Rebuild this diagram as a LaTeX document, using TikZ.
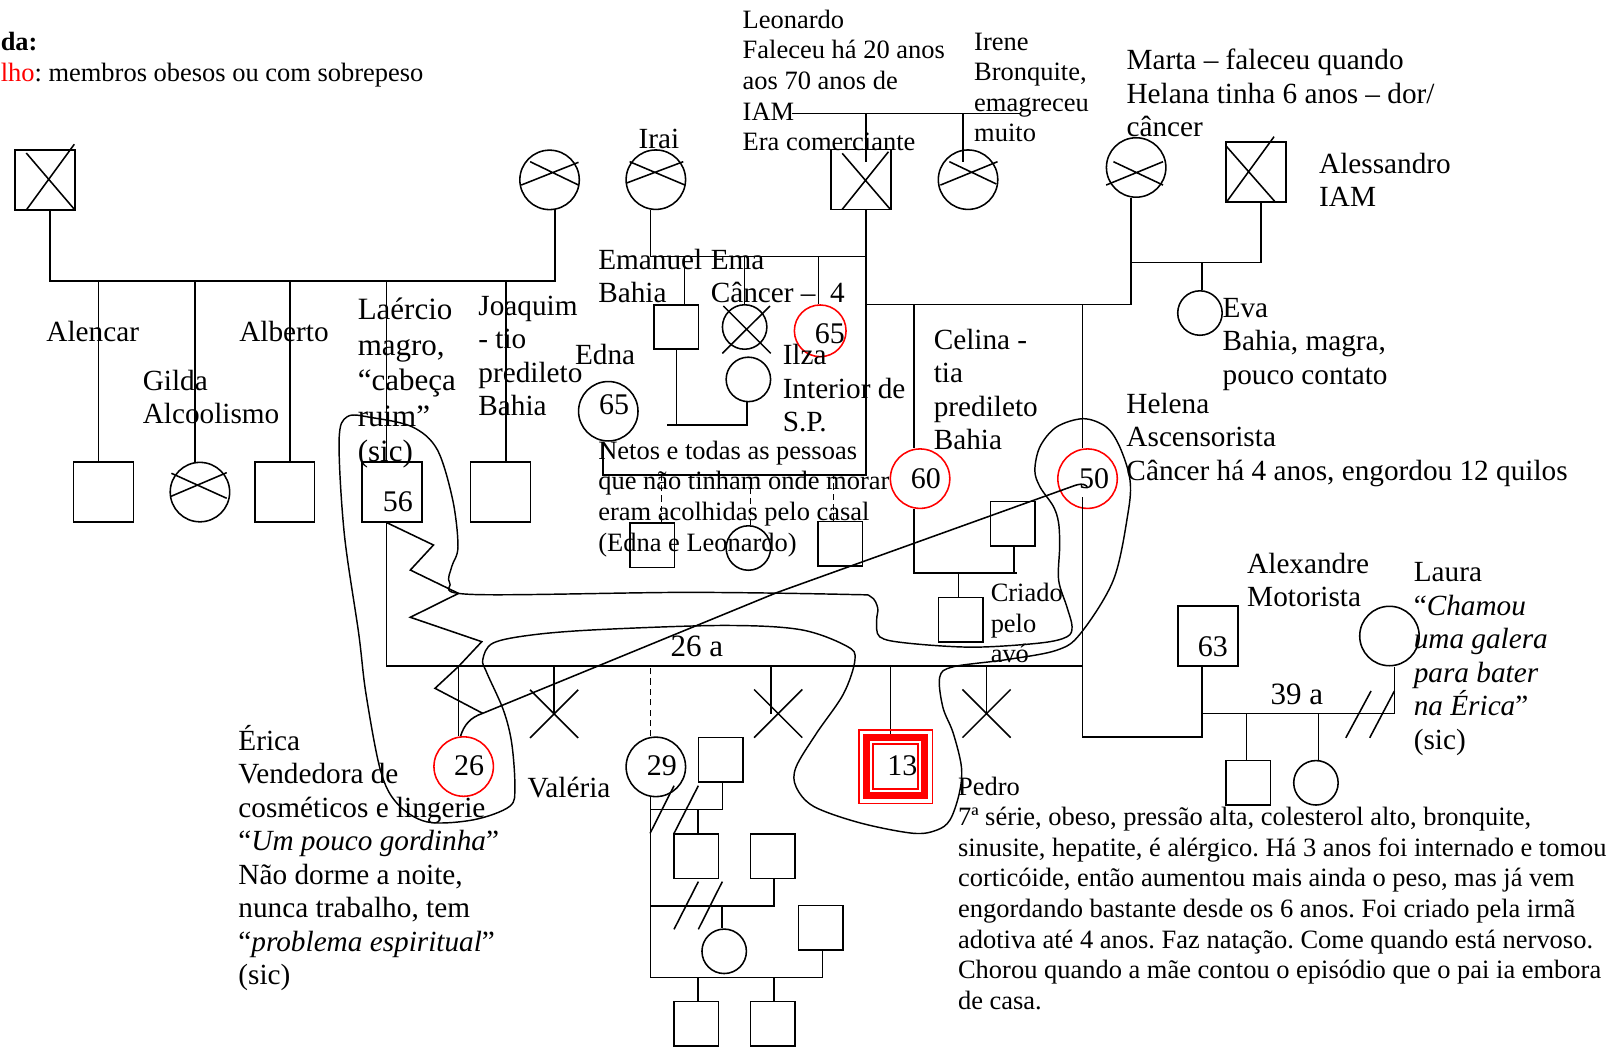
\documentclass[tikz,border=0pt]{standalone}
\usepackage{fontspec}
\setmainfont{Liberation Serif}
\usetikzlibrary{calc}
\frenchspacing

\newcommand{\stk}[1]{\vtop{\lineskiplimit=-\maxdimen\let\\\cr\halign{##\hfil\cr#1\crcr}}}

\begin{document}
\begin{tikzpicture}[x=1pt, y=-1pt, line width=1.5pt,
    sq/.style={draw, rectangle, minimum size=58pt, inner sep=0pt},
    ssq/.style={draw, rectangle, minimum size=43pt, inner sep=0pt},
    pc/.style={draw, circle, minimum size=57.5pt, inner sep=0pt},
    spc/.style={draw, circle, minimum size=43pt, inner sep=0pt},
    obese/.style={draw=red},
    adopt/.style={dash pattern=on 6pt off 4pt},
    num/.style={anchor=base west, inner sep=0pt, font=\fontsize{29}{33}\selectfont},
    txs/.style={anchor=base west, inner sep=0pt, font=\fontsize{25.6}{29.6}\selectfont},
    txm/.style={anchor=base west, inner sep=0pt, font=\fontsize{28.3}{32.4}\selectfont},
    txl/.style={anchor=base west, inner sep=0pt, font=\fontsize{30}{34.3}\selectfont}
]
\useasboundingbox (0,0) rectangle (1568,1012);

\node[txs, font=\fontsize{25.5}{29.6}\selectfont\bfseries] (legtitle) at (0,48.4) {da:};
\node[txs] (legtext) at (0,78.4) {\textcolor{red}{lho}: membros obesos ou com sobrepeso};

\node[sq] (grA) at (43.4,174) {};
\node[pc] (grB) at (531.6,174) {};
\node[pc] (irai) at (634.4,173.8) {};
\node[sq] (leo) at (832.7,173.8) {};
\node[pc] (irene) at (936.4,173.8) {};
\node[pc] (marta) at (1099,162) {};
\node[sq] (aless) at (1215,166.6) {};

\node[sq] (alencar) at (100.2,476) {};
\node[pc] (gilda) at (193.4,476) {};
\node[sq] (alberto) at (275.4,476) {};
\node[sq] (laercio) at (379,476) {};
\node[sq] (joaquim) at (484.3,476) {};

\node[ssq] (emanuel) at (654.2,316.3) {};
\node[spc] (ema) at (720.3,316.3) {};
\node[spc] (emanuelw) at (723.9,367) {};
\node[pc, obese, minimum size=50pt] (ilza) at (793.4,320) {};
\node[pc] (edna) at (588.4,397.8) {};
\node[ssq] (fos1) at (630.9,527.5) {};
\node[spc] (fos2) at (723.9,530.1) {};
\node[ssq] (fos3) at (812.8,525.9) {};
\node[pc, obese] (celina) at (890,463) {};
\node[pc, obese] (helena) at (1052,463) {};
\node[spc] (eva) at (1160.7,302.8) {};
\node[ssq] (celhus) at (979.6,506.6) {};
\node[ssq] (celson) at (929.1,599.3) {};
\node[sq] (alex) at (1168.5,615.2) {};
\node[pc] (laura) at (1344,615.2) {};
\node[ssq] (alexson) at (1207.3,757.2) {};
\node[spc] (alexdau) at (1272.9,757.2) {};

\node[pc, obese] (erica) at (448.5,741.5) {};
\node[pc] (valeria) at (634.4,741.8) {};
\node[ssq, obese, minimum size=43.8pt, line width=2pt] (pedro) at (866.4,741.5) {};
\node[ssq] (vp1) at (697,734.8) {};
\node[ssq] (vc1) at (673.4,828.2) {};
\node[ssq] (vp2) at (747.6,828.2) {};
\node[spc] (vc2) at (700.5,920.2) {};
\node[ssq] (vp3) at (793.7,897.5) {};
\node[ssq] (vc3) at (673.4,990.3) {};
\node[ssq] (vc4) at (747.6,990.3) {};

\coordinate (loss1) at (536,690.5);
\coordinate (loss2) at (752.7,690.2);
\coordinate (loss3) at (954.3,690.2);

\coordinate (mLIa) at (766,109.6);
\coordinate (mLIb) at (987,109.6);
\coordinate (sibAB) at (0,271.8);
\coordinate (sibIL) at (0,248);
\coordinate (sibMA) at (0,253.8);
\coordinate (sibML) at (0,294.5);
\coordinate (sibEI) at (0,411.1);
\coordinate (sibEL) at (0,459.5);
\coordinate (sibC) at (0,554);
\coordinate (sibLH) at (0,644);
\coordinate (sibAL) at (0,690);
\coordinate (lnkAH) at (0,713);
\coordinate (sibV1) at (0,782.9);
\coordinate (sibV2) at (0,876.1);
\coordinate (sibV3) at (0,945.4);

\draw[shift={(grA.center)}] (-18,-26) -- (29,29) (-17.5,28.5) -- (28.5,-34.5);
\draw[shift={(leo.center)}] (-18,-25.5) -- (28.5,28.7) (-18,28.7) -- (26.7,-27);
\draw[shift={(aless.center)}] (-28.4,-24.7) -- (18.3,28.5) (-28.4,28.5) -- (17.4,-34.4);
\draw[shift={(grB.center)}] (-27.4,5) -- (28,-17) (-18.8,-17.6) -- (28,5);
\draw[shift={(irai.center)}] (-29,3.5) -- (26.5,-17.4) (-25.4,-17.4) -- (28.2,5.2);
\draw[shift={(irene.center)}] (-26.7,5.2) -- (28.5,-17.4) (-18.1,-17.4) -- (27.4,4.2);
\draw[shift={(marta.center)}] (-29,17) -- (26,-5.6) (-22,-5.6) -- (26,17);
\draw[shift={(gilda.center)}] (-28.7,4.4) -- (25.9,-18.8) (-27.6,-18.2) -- (25.9,6);
\draw[shift={(ema.center)}] (-20.6,-20.3) -- (25.2,25.5) (-21.6,25.5) -- (24.5,-20.3);

\draw (mLIa) -- (mLIb);
\draw ([xshift=5pt]leo.center |- mLIa) -- ([shift={(5,-17)}]leo.center);
\draw ([xshift=-5pt]irene.center |- mLIa) -- ([shift={(-5,-17)}]irene.center);

\draw ([xshift=5pt]grA.south) -- ([xshift=5pt]grA.south |- sibAB) -- ([xshift=5pt]grB.south |- sibAB) -- ([xshift=5pt]grB.south);
\foreach \k/\d in {alencar/-5, gilda/-5, alberto/5, laercio/-5, joaquim/5}
  \draw ([xshift=\d pt]\k.north) -- ([xshift=\d pt]\k.north |- sibAB);

\draw ([xshift=-5pt]irai.south) -- ([xshift=-5pt]irai.south |- sibIL) -- ([xshift=5pt]leo.south |- sibIL);
\draw ([xshift=5pt]leo.south) -- ([xshift=5pt]leo.south |- sibEL) -- ([xshift=-5pt]edna.south |- sibEL) -- ([xshift=-5pt]edna.south);
\draw ([xshift=8pt]emanuel.north) -- ([xshift=8pt]emanuel.north |- sibIL);
\draw (ema.north) -- (ema.north |- sibIL);
\draw ([xshift=-1.5pt]ilza.north) -- ([xshift=-1.5pt]ilza.north |- sibIL);
\draw (emanuel.south) -- (emanuel.south |- sibEI);
\draw ([xshift=-9pt]emanuel.south |- sibEI) -- ([xshift=-1.6pt]emanuelw.south |- sibEI) -- ([xshift=-1.6pt]emanuelw.south);
\foreach \k/\d in {fos1/9, fos2/2, fos3/-6.6}
  \draw[adopt] ([xshift=\d pt]\k.north) -- ([xshift=\d pt]\k.north |- sibEL);

\draw ([xshift=5pt]leo.south |- sibML) -- ([xshift=-5pt]marta.south |- sibML) -- ([xshift=-5pt]marta.south);
\draw ([xshift=-5pt]marta.south |- sibMA) -- ([xshift=5pt]aless.south |- sibMA) -- ([xshift=5pt]aless.south);
\draw ([xshift=2pt]eva.north) -- ([xshift=2pt]eva.north |- sibMA);
\draw ([xshift=-6pt]celina.north) -- ([xshift=-6pt]celina.north |- sibML);
\draw ([xshift=-5pt]helena.north) -- ([xshift=-5pt]helena.north |- sibML);

\draw ([xshift=-6pt]celina.south) -- ([xshift=-6pt]celina.south |- sibC) -- ([xshift=4.5pt]celhus.south |- sibC);
\draw ([xshift=1.3pt]celhus.south) -- ([xshift=1.3pt]celhus.south |- sibC);
\draw ([xshift=-2pt]celson.north) -- ([xshift=-2pt]celson.north |- sibC);

\draw ([xshift=-5pt]laercio.south) -- ([xshift=-5pt]laercio.south |- sibLH) -- ([xshift=-5pt]helena.south |- sibLH);
\draw ([shift={(-5,18)}]helena.center) -- ([xshift=-5pt]helena.south |- lnkAH) -- ([xshift=-6pt]alex.south |- lnkAH) -- ([xshift=-6pt]alex.south);
\draw ([xshift=-6pt]alex.south |- sibAL) -- ([xshift=5pt]laura.south |- sibAL) -- ([xshift=5pt]laura.south);
\draw ([xshift=-1.6pt]alexson.north) -- ([xshift=-1.6pt]alexson.north |- sibAL);
\draw ([xshift=2.4pt]alexdau.north) -- ([xshift=2.4pt]alexdau.north |- sibAL);
\draw[shift={(laura.south)}] (-42.2,69) -- (-17.8,23.7) (-19.1,69) -- (4.8,23.7);

\draw ([xshift=-5pt]erica.north) -- ([xshift=-5pt]erica.north |- sibLH);
\draw[adopt] ([xshift=-5pt]valeria.north) -- ([xshift=-5pt]valeria.north |- sibLH);
\draw ([xshift=-5pt]pedro.north |- sibLH) -- ([shift={(-5,-28)}]pedro.center);
\draw (loss1) -- (loss1 |- sibLH);
\draw ([xshift=-7pt]loss2) -- ([xshift=-7pt]loss2 |- sibLH);
\draw (loss3) -- (loss3 |- sibLH);
\foreach \c in {loss1, loss2, loss3}
  \draw[shift={(\c)}] (-23.3,-23.3) -- (23.3,23.3) (-23.3,23.3) -- (23.3,-23.3);
\draw[red, line width=6.5pt, shift={(pedro.center)}] (-28.2,-28.2) rectangle (28.2,28.2);
\draw[red, line width=1.5pt, shift={(pedro.center)}] (-35.5,-35.5) rectangle (35.5,35.5);

\draw ([xshift=-5pt]valeria.south) -- ([xshift=-5pt]valeria.south |- sibV3) -- ([xshift=2pt]vp3.south |- sibV3) -- ([xshift=2pt]vp3.south);
\draw ([xshift=-5pt]valeria.south |- sibV1) -- ([xshift=1.7pt]vp1.south |- sibV1) -- ([xshift=1.7pt]vp1.south);
\draw ([xshift=-5pt]valeria.south |- sibV2) -- ([xshift=1pt]vp2.south |- sibV2) -- ([xshift=1pt]vp2.south);
\draw ([xshift=2pt]vc1.north) -- ([xshift=2pt]vc1.north |- sibV1);
\draw ([xshift=-2pt]vc2.north) -- ([xshift=-2pt]vc2.north |- sibV2);
\draw ([xshift=2pt]vc3.north) -- ([xshift=2pt]vc3.north |- sibV3);
\draw ([xshift=1pt]vc4.north) -- ([xshift=1pt]vc4.north |- sibV3);
\draw[shift={(valeria.center)}] (-5.6,64.3) -- (17.6,18.2) (17.6,64.3) -- (41.1,18.2);
\draw[shift={(valeria.center)}] (17.6,157.1) -- (41.1,111) (41.1,157.1) -- (64.3,111);

\coordinate (ericaLk) at (466.9,690);
\draw ([xshift=-4.5pt]laercio.south) -- (419.3,527.2) -- (396.9,551.4) -- (443.5,574) -- (396.9,597.1)
  -- (466,620.7) -- (443.3,644.9) -- (420.8,665.8) -- (ericaLk);
\draw ([xshift=-3pt]erica.north) .. controls (449,701) and (455,694) .. (ericaLk) -- (752,573) -- (1040,469.5)
  .. controls (1048,467) and (1051,469) .. ([yshift=-9pt]helena.center);

\draw[line width=1.4pt] plot[smooth cycle, tension=0.55] coordinates {
  (1048,405) (1022,413) (1006,432) (1001,455) (1006,471) (1019,490) (1024,506) (1025,529)
  (1024,561) (1032,587) (1037,606) (1032,616) (1006,622) (941,626) (877,622) (851,616)
  (848,600) (849,588) (842,577) (820,575) (664,573) (457,575) (435,564) (437,548) (443,529)
  (438,484) (423,435) (399,413) (360,404) (336,403) (328,426) (333,516) (347,613) (354,671)
  (368,745) (384,777) (413,795) (458,793) (493,780) (498,761) (495,719) (487,687) (471,651)
  (467,638) (477,622) (516,614) (580,609) (700,605) (774,609) (819,625) (827,638) (816,671)
  (790,709) (770,742) (770,761) (787,780) (832,796) (883,806) (906,803) (919,793) (928,767)
  (930,742) (922,709) (912,684) (909,655) (922,645) (974,638) (1022,629) (1045,613) (1077,561)
  (1091,497) (1093,464) (1083,432) (1070,413)};

\node[num] (n56) at (369.5,495) {56};
\node[num] (n65a) at (578.8,401.4) {65};
\node[num] (n65b) at (787.4,332.1) {65};
\node[num] (n60) at (880.3,472.4) {60};
\node[num] (n50) at (1043,472.4) {50};
\node[num] (n26) at (438.5,750.6) {26};
\node[num] (n29) at (624.9,750.6) {29};
\node[num] (n13) at (857.7,750.6) {13};
\node[num] (n63) at (1157.9,635.2) {63};

\node[txs] (leotxt) at (717.7,27.4) {\stk{Leonardo\\Faleceu há 20 anos\\aos 70 anos de\\IAM\\Era comerciante}};
\node[txs] (irenetxt) at (941.6,48.4) {\stk{Irene\\Bronquite,\\emagreceu\\muito}};
\node[txm] (iraitxt) at (617,143.5) {Irai};
\node[txm] (martatxt) at (1089,67.7) {\stk{Marta – faleceu quando\\Helana tinha 6 anos – dor/\\câncer}};
\node[txm] (alesstxt) at (1275.3,167.7) {\stk{Alessandro\\IAM}};
\node[txm] (alencartxt) at (44.2,330.5) {Alencar};
\node[txm] (albertotxt) at (230.7,330.5) {Alberto};
\node[txm] (gildatxt) at (137.4,377.3) {\stk{Gilda\\Alcoolismo}};
\node[txl] (laerciotxt) at (345.3,309.5) {\stk{Laércio\\magro,\\“cabeça\\ruim”\\(sic)}};
\node[txm] (joaquimtxt) at (462,305) {\stk{Joaquim\\- tio\\predileto\\Bahia}};
\node[txm] (emanueltxt) at (578,260.5) {\stk{Emanuel\\Bahia}};
\node[txm] (ematxt) at (686.8,260.5) {\stk{Ema\\Câncer –\hspace{14pt}4}};
\node[txm] (ednatxt) at (555.5,353) {Edna};
\node[txm] (ilzatxt) at (756.4,353) {\stk{Ilza\\Interior de\\S.P.}};
\node[txs] (netostxt) at (578,444.3) {\stk{Netos e todas as pessoas\\que não tinham onde morar\\eram acolhidas pelo casal\\(Edna e Leonardo)}};
\node[txm] (celinatxt) at (902.5,337.9) {\stk{Celina -\\tia\\predileto\\Bahia}};
\node[txm] (evatxt) at (1181.9,307) {\stk{Eva\\Bahia, magra,\\pouco contato}};
\node[txm] (helenatxt) at (1088.9,399.8) {\stk{Helena\\Ascensorista\\Câncer há 4 anos, engordou 12 quilos}};
\node[txs] (criadotxt) at (957.6,582) {\stk{Criado\\pelo\\avó}};
\node[txl] (marLH) at (648,635.2) {26 a};
\node[txm] (alextxt) at (1205.7,554.6) {\stk{Alexandre\\Motorista}};
\node[txm] (lauratxt) at (1366.8,562.6) {\stk{Laura\\“\textit{Chamou}\\\textit{uma galera}\\\textit{para bater}\\\textit{na Érica}”\\(sic)}};
\node[txl] (marAL) at (1228.3,681) {39 a};
\node[txm] (ericatxt) at (229.9,725.5) {\stk{Érica\\Vendedora de\\cosméticos e lingerie\\“\textit{Um pouco gordinha}”\\Não dorme a noite,\\nunca trabalho, tem\\“\textit{problema espiritual}”\\(sic)}};
\node[txm] (valeriatxt) at (509.5,771.3) {Valéria};
\node[txs] (pedrotxt) at (926,769) {\stk{Pedro\\7ª série, obeso, pressão alta, colesterol alto, bronquite,\\sinusite, hepatite, é alérgico. Há 3 anos foi internado e tomou\\corticóide, então aumentou mais ainda o peso, mas já vem\\engordando bastante desde os 6 anos. Foi criado pela irmã\\adotiva até 4 anos. Faz natação. Come quando está nervoso.\\Chorou quando a mãe contou o episódio que o pai ia embora\\de casa.}};
\end{tikzpicture}
\end{document}
